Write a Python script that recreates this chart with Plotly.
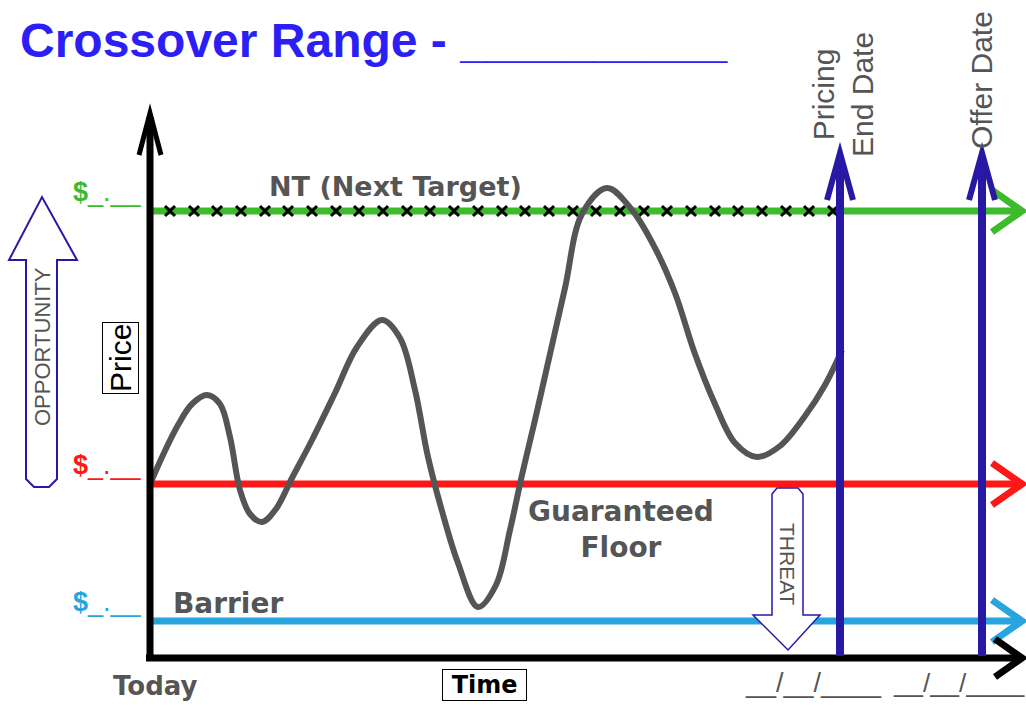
import plotly.graph_objects as go

# ---------------- data (picture units: y grows downward) ----------------
price_time = [151, 163, 178, 192, 207, 220, 230, 240, 250, 262, 276, 292, 312, 335, 357, 382,
              400, 415, 428, 442, 458, 478, 496, 510, 522, 535, 550, 565, 582, 607, 632, 655,
              675, 695, 715, 735, 757, 780, 805, 825, 842]
price_value = [482, 455, 425, 404, 395, 404, 437, 490, 514, 522, 509, 478, 440, 393, 347, 320,
               338, 390, 457, 511, 563, 607, 585, 530, 475, 420, 354, 288, 214, 188, 210, 248,
               293, 354, 404, 443, 457, 446, 416, 385, 350]

level_names = ["NT", "Floor", "Barrier"]
level_values = [211, 484, 621]
level_colors = ["#3dbb2d", "#ff1616", "#28a4df"]

cross_marks = [170, 194, 217, 241, 265, 288, 312, 336, 359, 383, 407, 430, 454, 478, 502, 525,
               549, 573, 596, 620, 644, 667, 691, 715, 738, 762, 786, 809, 833]

today_x = 150
date_names = ["Pricing<br>End Date", "Offer Date"]
date_x = [840, 982]
date_placeholders = ["__/__/____", "__/__/____"]

# ---------------- geometry / styles ----------------
W, H = 1026, 705
AXIS_Y = 658
AXIS_TOP = 113
LINE_END = 1022
NAVY = "#2819a5"
GREY = "#555555"
BLUE_TITLE = "#2c1ef6"

fig = go.Figure()

shapes = []
# level lines with chevron heads
for lv, col in zip(level_values, level_colors):
    shapes.append(dict(type="line", xref="x", yref="y", x0=today_x, x1=LINE_END - 2, y0=lv, y1=lv,
                       line=dict(color=col, width=7), layer="below"))
    shapes.append(dict(type="path", xref="x", yref="y",
                       path=f"M {LINE_END-30},{lv-21} L {LINE_END},{lv} L {LINE_END-30},{lv+21}",
                       line=dict(color=col, width=7), layer="below"))

# black axes
shapes.append(dict(type="line", xref="x", yref="y", x0=today_x, x1=today_x, y0=AXIS_Y + 3, y1=AXIS_TOP + 4,
                   line=dict(color="black", width=7), layer="above"))
shapes.append(dict(type="path", xref="x", yref="y",
                   path=f"M {today_x-11},{AXIS_TOP+42} L {today_x},{AXIS_TOP} L {today_x+11},{AXIS_TOP+42}",
                   line=dict(color="black", width=5), layer="above"))
shapes.append(dict(type="line", xref="x", yref="y", x0=today_x - 4, x1=LINE_END - 2, y0=AXIS_Y, y1=AXIS_Y,
                   line=dict(color="black", width=7), layer="above"))
shapes.append(dict(type="path", xref="x", yref="y",
                   path=f"M {LINE_END-27},{AXIS_Y-19} L {LINE_END},{AXIS_Y} L {LINE_END-27},{AXIS_Y+19}",
                   line=dict(color="black", width=7), layer="above"))

# navy date arrows
for dx in date_x:
    shapes.append(dict(type="line", xref="x", yref="y", x0=dx, x1=dx, y0=AXIS_Y - 2, y1=158,
                       line=dict(color=NAVY, width=8), layer="above"))
    shapes.append(dict(type="path", xref="x", yref="y",
                       path=f"M {dx-13},{200} L {dx},{153} L {dx+13},{200}",
                       line=dict(color=NAVY, width=6), layer="above"))

# opportunity arrow (up, from floor towards next target)
ox = 42
top = level_values[0] - 14
bot = level_values[1] + 3
shapes.append(dict(type="path", xref="x", yref="y",
                   path=(f"M {ox-16},{bot-8} L {ox-8},{bot} L {ox+7},{bot} L {ox+15},{bot-8} "
                         f"L {ox+15},{top+63} L {ox+35},{top+63} L {ox},{top} L {ox-33},{top+63} "
                         f"L {ox-16},{top+63} Z"),
                   line=dict(color=NAVY, width=2), fillcolor="white", layer="above"))

# threat arrow (down, from floor towards barrier)
tx = 788
ttop = level_values[1] + 4
ttip = level_values[2] + 29
shapes.append(dict(type="path", xref="x", yref="y",
                   path=(f"M {tx-16},{ttop+6} L {tx-11},{ttop} L {tx+10},{ttop} L {tx+15},{ttop+6} "
                         f"L {tx+15},{ttip-35} L {tx+32},{ttip-35} L {tx},{ttip} L {tx-35},{ttip-35} "
                         f"L {tx-16},{ttip-35} Z"),
                   line=dict(color=NAVY, width=1.5), fillcolor="white", layer="above"))

# cross marks on NT line
fig.add_trace(go.Scatter(x=cross_marks, y=[level_values[0]] * len(cross_marks), mode="markers",
                         marker=dict(symbol="x-thin", size=10, line=dict(color="black", width=3)),
                         hoverinfo="skip"))
# price path
fig.add_trace(go.Scatter(x=price_time, y=price_value, mode="lines",
                         line=dict(color=GREY, width=6, shape="spline", smoothing=1),
                         hoverinfo="skip"))

ann = []
SANS = "Liberation Sans, Arial, sans-serif"
WIDE = "DejaVu Sans, Verdana, sans-serif"
# title
ann.append(dict(x=18, y=40, xanchor="left", yanchor="middle",
                text="<b>Crossover Range - __________</b>",
                font=dict(family=SANS, size=48, color=BLUE_TITLE)))
# $ labels
for lv, col in zip(level_values, level_colors):
    ann.append(dict(x=144, y=lv - 2, xanchor="right", yanchor="bottom",
                    text="<b>$</b>_.__", font=dict(family=SANS, size=27, color=col)))
# grey labels
ann.append(dict(x=395, y=186, text="<b>NT (Next Target)</b>",
                font=dict(family=WIDE, size=27, color=GREY)))
ann.append(dict(x=621, y=529, text="<b>Guaranteed<br>Floor</b>",
                font=dict(family=WIDE, size=28, color=GREY)))
ann.append(dict(x=228, y=603, text="<b>Barrier</b>",
                font=dict(family=WIDE, size=28, color=GREY)))
ann.append(dict(x=155, y=686, text="<b>Today</b>",
                font=dict(family=WIDE, size=26, color=GREY)))
# boxed axis names
ann.append(dict(x=120, y=358, text="Price", textangle=-90, bordercolor="black", borderwidth=1,
                borderpad=1, font=dict(family=SANS, size=30, color="black")))
ann.append(dict(x=484, y=685, text="&nbsp;<b>Time</b>&nbsp;", bordercolor="black", borderwidth=1,
                borderpad=1, font=dict(family=WIDE, size=24, color="black")))
# arrows' words
ann.append(dict(x=ox, y=347, text="OPPORTUNITY", textangle=-90,
                font=dict(family=SANS, size=22, color=GREY)))
ann.append(dict(x=tx, y=564, text="THREAT", textangle=90,
                font=dict(family=SANS, size=21, color=GREY)))
# date labels
ann.append(dict(x=date_x[0] + 3, y=95, text=date_names[0], textangle=-90,
                font=dict(family=SANS, size=30, color=GREY)))
ann.append(dict(x=date_x[1] - 1, y=80, text=date_names[1], textangle=-90,
                font=dict(family=SANS, size=30, color=GREY)))
ann.append(dict(x=date_x[0] - 27, y=683, text=date_placeholders[0],
                font=dict(family=SANS, size=27, color=GREY)))
ann.append(dict(x=date_x[1] - 23, y=683, text=date_placeholders[1],
                font=dict(family=SANS, size=26, color=GREY)))

for a in ann:
    a.setdefault("xref", "x")
    a.setdefault("yref", "y")
    a.setdefault("showarrow", False)

fig.update_layout(
    width=W, height=H, margin=dict(l=0, r=0, t=0, b=0),
    paper_bgcolor="white", plot_bgcolor="white", showlegend=False,
    xaxis=dict(range=[0, W], visible=False, fixedrange=True),
    yaxis=dict(range=[H, 0], visible=False, fixedrange=True),
    shapes=shapes, annotations=ann,
)

fig.write_html("out.html", config={"displayModeBar": False},
               post_script="document.body.style.margin='0';document.body.style.overflow='hidden';")
